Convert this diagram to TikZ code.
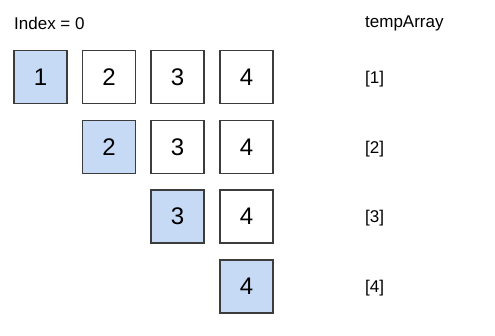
\documentclass[tikz,border=0pt]{standalone}
\usepackage{fontspec}
\setmainfont{Liberation Sans}
\definecolor{cellblue}{HTML}{C6D9F5}
\definecolor{cellline}{HTML}{3C3C3C}
\begin{document}
\begin{tikzpicture}[x=1pt,y=-1pt,
  cell/.style={draw=cellline,line width=1.2pt,minimum size=53pt,inner sep=0pt,font=\fontsize{24}{24}\selectfont},
  hot/.style={cell,fill=cellblue},
  lbl/.style={anchor=west,inner sep=0pt,font=\fontsize{17}{17}\selectfont}]
\useasboundingbox (0,0) rectangle (495,335);
\node[lbl] (idx) at (14,23.5) {Index = 0};
\node[lbl] (tmp) at (365,23.5) {tempArray};
% row 1
\node[hot]  (a11) at (40.5,77) {1};
\node[cell] (a12) at (109,77) {2};
\node[cell] (a13) at (177.5,77) {3};
\node[cell] (a14) at (246.5,77) {4};
% row 2
\node[hot]  (a22) at (109,147) {2};
\node[cell] (a23) at (177.5,147) {3};
\node[cell] (a24) at (246.5,147) {4};
% row 3
\node[hot]  (a33) at (177.5,216.5) {3};
\node[cell] (a34) at (246.5,216.5) {4};
% row 4
\node[hot]  (a44) at (246.5,286.5) {4};
% tempArray labels
\node[lbl] (t1) at (365,79) {[1]};
\node[lbl] (t2) at (365,149) {[2]};
\node[lbl] (t3) at (365,218.5) {[3]};
\node[lbl] (t4) at (365,288.5) {[4]};
\end{tikzpicture}
\end{document}
